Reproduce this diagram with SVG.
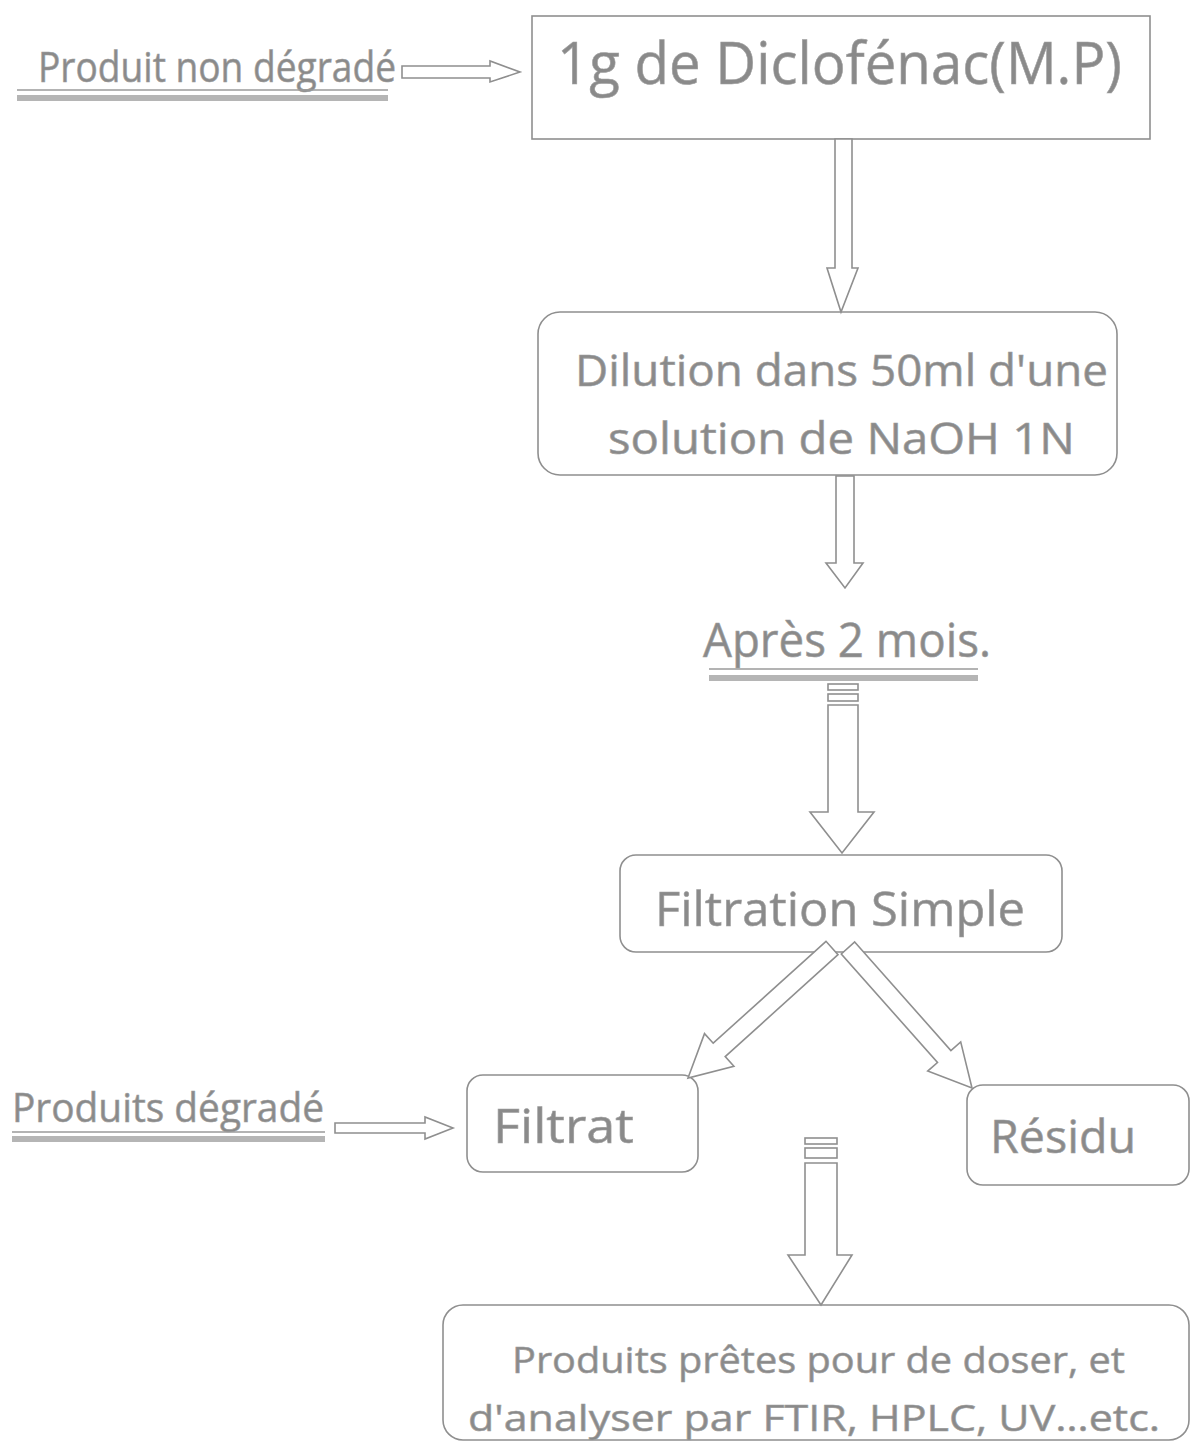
<svg xmlns="http://www.w3.org/2000/svg" width="1191" height="1449" viewBox="0 0 1191 1449">
<style>
  .bg { fill: #ffffff; }
  .box { fill: none; stroke: #8f8f8f; stroke-width: 1.6; }
  .arr { fill: #ffffff; stroke: #8f8f8f; stroke-width: 1.6; stroke-linejoin: miter; }
  .t { font-family: "Comic Sans MS", "Open Sans", "DejaVu Sans", sans-serif; fill: #8a8a8a; stroke: #a0a0a0; stroke-width: 0.6; }
  .ul1 { stroke: #9a9a9a; stroke-width: 1.5; }
  .ul2 { fill: #b5b5b5; }
</style>
<rect class="bg" x="0" y="0" width="1191" height="1449"/>

<g id="label-non-degrade">
  <text class="t" x="38" y="82" font-size="42" textLength="358" lengthAdjust="spacingAndGlyphs">Produit non dégradé</text>
  <line class="ul1" x1="17" y1="90" x2="388" y2="90"/>
  <rect class="ul2" x="17" y="95" width="371" height="6"/>
</g>

<g id="node-diclofenac">
  <rect class="box" x="532" y="16" width="618" height="123"/>
  <text class="t" x="557" y="84" font-size="58" textLength="565" lengthAdjust="spacingAndGlyphs">1g de Diclofénac(M.P)</text>
</g>

<g id="node-dilution">
  <rect class="box" x="538" y="312" width="579" height="163" rx="22"/>
  <text class="t" x="575" y="386" font-size="44" textLength="533" lengthAdjust="spacingAndGlyphs">Dilution dans 50ml d'une</text>
  <text class="t" x="608" y="454" font-size="44" textLength="467" lengthAdjust="spacingAndGlyphs">solution de NaOH 1N</text>
</g>

<g id="label-apres">
  <text class="t" x="703" y="657" font-size="48" textLength="288" lengthAdjust="spacingAndGlyphs">Après 2 mois.</text>
  <line class="ul1" x1="709" y1="669" x2="978" y2="669"/>
  <rect class="ul2" x="709" y="675" width="269" height="6"/>
</g>

<g id="node-filtration">
  <rect class="box" x="620" y="855" width="442" height="97" rx="16"/>
  <text class="t" x="655" y="926" font-size="48" textLength="370" lengthAdjust="spacingAndGlyphs">Filtration Simple</text>
</g>

<g id="label-degrade">
  <text class="t" x="12" y="1122" font-size="40" textLength="312" lengthAdjust="spacingAndGlyphs">Produits dégradé</text>
  <line class="ul1" x1="12" y1="1132" x2="325" y2="1132"/>
  <rect class="ul2" x="12" y="1136" width="313" height="6"/>
</g>

<g id="node-filtrat">
  <rect class="box" x="467" y="1075" width="231" height="97" rx="16"/>
  <text class="t" x="493" y="1143" font-size="48" textLength="141" lengthAdjust="spacingAndGlyphs">Filtrat</text>
</g>

<g id="node-residu">
  <rect class="box" x="967" y="1085" width="222" height="100" rx="16"/>
  <text class="t" x="990" y="1153" font-size="46" textLength="146" lengthAdjust="spacingAndGlyphs">Résidu</text>
</g>

<g id="node-produits">
  <rect class="box" x="443" y="1305" width="746" height="135" rx="20"/>
  <text class="t" x="512" y="1373" font-size="37" textLength="613" lengthAdjust="spacingAndGlyphs">Produits prêtes pour de doser, et</text>
  <text class="t" x="468" y="1431" font-size="37" textLength="692" lengthAdjust="spacingAndGlyphs">d'analyser par FTIR, HPLC, UV…etc.</text>
</g>

<g id="connectors">
  <!-- Produit non dégradé -> box 1 -->
  <polygon class="arr" points="402,66 490,66 490,61 520,72 490,82 490,78 402,78"/>
  <!-- box1 -> dilution -->
  <polygon class="arr" points="835,139 852,139 852,268 858,268 841,312 827,268 835,268"/>
  <!-- dilution -> apres -->
  <polygon class="arr" points="836,476 854,476 854,563 863,563 845,588 826,563 836,563"/>
  <!-- apres -> filtration (striped) -->
  <rect class="arr" x="828" y="684" width="30" height="6"/>
  <rect class="arr" x="828" y="694" width="30" height="7"/>
  <polygon class="arr" points="828,705 858,705 858,812 874,812 842,853 810,812 828,812"/>
  <!-- filtration -> filtrat -->
  <polygon class="arr" points="826.0,941.3 713.2,1043.2 704.5,1033.6 688,1078 733.9,1066.2 725.2,1056.6 838.0,954.7"/>
  <!-- filtration -> residu -->
  <polygon class="arr" points="854.7,942.0 950.9,1050.5 960.7,1041.9 972,1088 927.7,1071.1 937.5,1062.5 841.3,954.0"/>
  <!-- produits degrade -> filtrat -->
  <polygon class="arr" points="335,1123 425,1123 425,1117 453,1128 425,1139 425,1133 335,1133"/>
  <!-- -> final (striped) -->
  <rect class="arr" x="805" y="1138" width="32" height="6"/>
  <rect class="arr" x="805" y="1148" width="32" height="10"/>
  <polygon class="arr" points="805,1163 837,1163 837,1255 852,1255 821,1305 788,1255 805,1255"/>
</g>
</svg>
